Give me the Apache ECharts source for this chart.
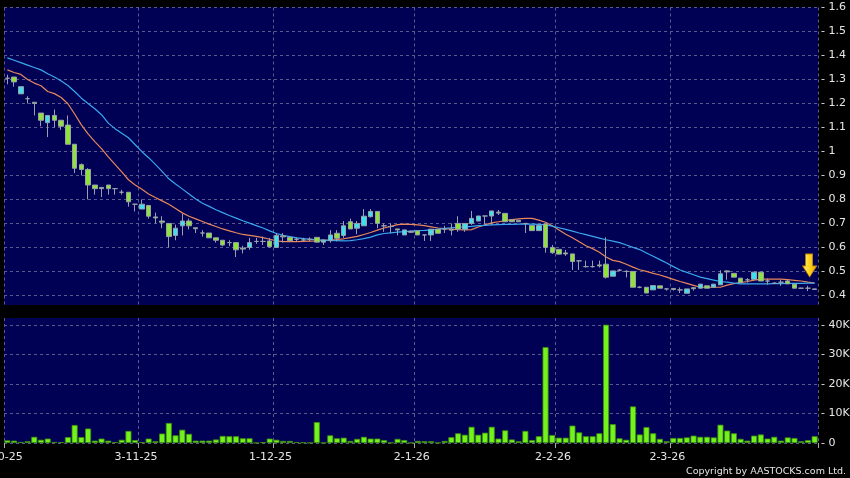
<!DOCTYPE html>
<html><head><meta charset="utf-8">
<script src="https://cdn.jsdelivr.net/npm/echarts@6/dist/echarts.min.js"></script>
<style>html,body{margin:0;padding:0;background:#000;}#c{width:850px;height:478px;}</style>
</head><body><div id="c"></div>
<script>
const dates = [
"2-10-25","3-10-25","6-10-25","8-10-25","9-10-25","10-10-25","13-10-25","14-10-25","15-10-25","16-10-25","17-10-25","20-10-25","21-10-25","22-10-25","23-10-25","24-10-25","27-10-25","28-10-25","30-10-25","31-10-25",
"3-11-25","4-11-25","5-11-25","6-11-25","7-11-25","10-11-25","11-11-25","12-11-25","13-11-25","14-11-25","17-11-25","18-11-25","19-11-25","20-11-25","21-11-25","24-11-25","25-11-25","26-11-25","27-11-25","28-11-25",
"1-12-25","2-12-25","3-12-25","4-12-25","5-12-25","8-12-25","9-12-25","10-12-25","11-12-25","12-12-25","15-12-25","16-12-25","17-12-25","18-12-25","19-12-25","22-12-25","23-12-25","24-12-25","29-12-25","30-12-25","31-12-25",
"2-1-26","5-1-26","6-1-26","7-1-26","8-1-26","9-1-26","12-1-26","13-1-26","14-1-26","15-1-26","16-1-26","19-1-26","20-1-26","21-1-26","22-1-26","23-1-26","26-1-26","27-1-26","28-1-26","29-1-26","30-1-26",
"2-2-26","3-2-26","4-2-26","5-2-26","6-2-26","9-2-26","10-2-26","11-2-26","12-2-26","13-2-26","16-2-26","20-2-26","23-2-26","24-2-26","25-2-26","26-2-26","27-2-26",
"2-3-26","3-3-26","4-3-26","5-3-26","6-3-26","9-3-26","10-3-26","11-3-26","12-3-26","13-3-26","16-3-26","17-3-26","18-3-26","19-3-26","20-3-26","23-3-26","24-3-26","25-3-26","26-3-26","27-3-26","30-3-26","31-3-26"
];
const monthLabels = ["2-10-25","3-11-25","1-12-25","2-1-26","2-2-26","2-3-26"];

const opens = [1.305,1.31,1.24,1.22,1.205,1.16,1.12,1.15,1.13,1.11, 1.03,0.945,0.925,0.86,0.85,0.86,0.845,0.83,0.83,0.78, 0.76,0.775,0.727,0.71,0.70,0.65,0.69,0.71,0.682,0.66, 0.66,0.64,0.63,0.62,0.62,0.597,0.60,0.625,0.625,0.627, 0.60,0.648,0.642,0.634,0.631,0.634,0.642,0.622,0.628,0.659, 0.65,0.707,0.68,0.69,0.728,0.75,0.69,0.687,0.677,0.652, 0.667,0.669,0.652,0.652,0.676,0.676,0.676,0.70,0.676,0.70, 0.71,0.731,0.731,0.747,0.742,0.715,0.713,0.70,0.691,0.67, 0.698,0.60,0.592,0.577,0.573,0.544,0.52,0.52,0.527,0.53, 0.48,0.505,0.50,0.50,0.434,0.434,0.423,0.44,0.427,0.429, 0.423,0.409,0.432,0.43,0.44,0.434,0.444,0.502,0.492,0.472, 0.465,0.467,0.497,0.46,0.451,0.455,0.46,0.447,0.43,0.43, 0.427];
const closes = [1.305,1.29,1.27,1.22,1.20,1.13,1.15,1.13,1.105,1.03, 0.93,0.925,0.86,0.845,0.845,0.845,0.845,0.83,0.79,0.78, 0.78,0.73,0.723,0.705,0.645,0.68,0.71,0.69,0.678,0.66, 0.64,0.63,0.61,0.62,0.59,0.593,0.62,0.625,0.625,0.603, 0.65,0.644,0.628,0.634,0.631,0.634,0.622,0.631,0.652,0.638, 0.69,0.677,0.70,0.73,0.75,0.70,0.69,0.687,0.673,0.673, 0.663,0.652,0.652,0.676,0.659,0.676,0.672,0.676,0.70,0.721, 0.731,0.731,0.752,0.743,0.707,0.707,0.707,0.70,0.67,0.691, 0.60,0.578,0.572,0.573,0.541,0.544,0.52,0.52,0.523,0.476, 0.502,0.505,0.50,0.434,0.434,0.41,0.441,0.43,0.427,0.425, 0.423,0.427,0.428,0.447,0.43,0.447,0.49,0.498,0.476,0.453, 0.465,0.497,0.46,0.46,0.451,0.455,0.448,0.43,0.43,0.43, 0.425];
const lows = [1.28,1.27,1.24,1.20,1.15,1.105,1.06,1.10,1.09,1.03, 0.91,0.90,0.80,0.82,0.81,0.82,0.82,0.82,0.77,0.75, 0.76,0.72,0.70,0.68,0.60,0.63,0.65,0.675,0.66,0.645, 0.64,0.62,0.605,0.605,0.56,0.575,0.59,0.615,0.61,0.60, 0.60,0.62,0.625,0.625,0.625,0.625,0.622,0.61,0.62,0.625, 0.64,0.677,0.655,0.69,0.725,0.68,0.665,0.66,0.65,0.652, 0.66,0.652,0.627,0.627,0.659,0.66,0.65,0.665,0.665,0.694, 0.71,0.694,0.694,0.735,0.707,0.707,0.707,0.66,0.67,0.67, 0.578,0.573,0.572,0.565,0.506,0.506,0.516,0.516,0.516,0.47, 0.48,0.50,0.475,0.434,0.43,0.41,0.423,0.43,0.42,0.42, 0.41,0.409,0.42,0.43,0.43,0.434,0.444,0.465,0.476,0.453, 0.453,0.467,0.46,0.445,0.448,0.44,0.448,0.43,0.428,0.418, 0.425];
const highs = [1.32,1.31,1.27,1.23,1.205,1.16,1.15,1.175,1.13,1.15, 1.03,0.95,0.93,0.86,0.85,0.86,0.845,0.84,0.83,0.78, 0.80,0.775,0.745,0.73,0.70,0.695,0.74,0.72,0.682,0.672, 0.66,0.64,0.63,0.63,0.62,0.607,0.64,0.64,0.645,0.64, 0.66,0.66,0.642,0.642,0.64,0.642,0.642,0.631,0.672,0.672, 0.71,0.72,0.71,0.76,0.76,0.75,0.70,0.70,0.677,0.673, 0.67,0.669,0.652,0.676,0.676,0.69,0.70,0.73,0.70,0.752, 0.731,0.731,0.752,0.756,0.742,0.715,0.713,0.70,0.691,0.691, 0.698,0.61,0.592,0.59,0.573,0.544,0.545,0.545,0.545,0.642, 0.502,0.51,0.505,0.50,0.438,0.434,0.441,0.44,0.43,0.43, 0.433,0.427,0.435,0.447,0.44,0.447,0.505,0.505,0.492,0.472, 0.472,0.497,0.497,0.47,0.455,0.465,0.465,0.447,0.432,0.44, 0.427];
const volumes = [900,800,350,600,2100,1100,1500,350,300,2000, 6100,2000,4900,800,1500,800,300,1100,4100,1000, 300,1500,600,3200,6800,2600,4500,3100,800,800, 800,1200,2400,2300,2300,1600,1600,50,300,1500, 1100,700,700,300,200,100,7100,100,2600,1600, 1800,700,1400,2100,1500,1500,1000,100,1400,1000, 100,700,600,600,100,700,2000,3300,2800,5500, 2800,3500,5500,1500,4300,1200,600,4100,1000,2300, 32500,2700,1800,1800,5900,3600,2300,2300,3300,40100, 6400,1600,1100,12400,2900,5400,3300,1400,600,1700, 1700,1900,2500,2100,2100,1900,6200,4200,3300,1400, 800,2500,2900,1500,2100,800,1900,1700,600,1000, 2300];
const maShort = [1.340,1.329,1.321,1.300,1.285,1.274,1.250,1.241,1.225,1.199, 1.156,1.111,1.073,1.041,1.012,0.977,0.946,0.915,0.882,0.860, 0.842,0.823,0.808,0.794,0.780,0.762,0.744,0.730,0.719,0.708, 0.697,0.687,0.677,0.669,0.661,0.654,0.650,0.646,0.641,0.634, 0.627,0.624,0.624,0.624,0.625,0.626,0.627,0.629,0.631,0.633, 0.636,0.641,0.646,0.654,0.662,0.672,0.681,0.688,0.695,0.697, 0.696,0.694,0.691,0.686,0.681,0.678,0.676,0.674,0.673,0.674, 0.685,0.694,0.702,0.707,0.712,0.716,0.719,0.721,0.721,0.714, 0.705,0.690,0.673,0.655,0.640,0.624,0.607,0.595,0.580,0.560, 0.546,0.541,0.530,0.518,0.507,0.500,0.492,0.485,0.476,0.467, 0.458,0.450,0.442,0.434,0.434,0.434,0.434,0.443,0.449,0.453, 0.458,0.464,0.468,0.468,0.468,0.468,0.466,0.463,0.460,0.455, 0.451];
const maLong = [1.390,1.380,1.370,1.360,1.350,1.340,1.324,1.310,1.294,1.275, 1.250,1.222,1.200,1.178,1.153,1.118,1.095,1.076,1.057,1.028, 0.999,0.974,0.946,0.917,0.886,0.864,0.844,0.823,0.802,0.784, 0.771,0.757,0.745,0.733,0.722,0.711,0.701,0.691,0.681,0.669, 0.658,0.650,0.645,0.640,0.637,0.634,0.632,0.630,0.629,0.628, 0.627,0.628,0.632,0.637,0.643,0.652,0.658,0.661,0.664,0.666, 0.668,0.670,0.671,0.673,0.675,0.679,0.682,0.684,0.686,0.688, 0.691,0.692,0.694,0.695,0.696,0.696,0.697,0.697,0.697,0.696, 0.694,0.689,0.682,0.675,0.668,0.660,0.653,0.646,0.639,0.632, 0.626,0.620,0.610,0.600,0.591,0.577,0.563,0.549,0.535,0.520, 0.506,0.496,0.486,0.476,0.470,0.464,0.458,0.455,0.451,0.448, 0.448,0.448,0.448,0.448,0.449,0.449,0.450,0.450,0.450,0.451, 0.451];
const priceTicks = [0.4,0.5,0.6,0.7,0.8,0.9,1.0,1.1,1.2,1.3,1.4,1.5,1.6];
const volTicks = [0,10000,20000,30000,40000];

const FONT = '"DejaVu Sans", Verdana, sans-serif';
const LBL = '#e6e6e6';
const GRIDC = '#5a5a8c';
const isMonth = (i, v) => monthLabels.indexOf(v) >= 0;
const ohlc = dates.map((d, i) => [opens[i], closes[i], lows[i], highs[i]]);

const chart = echarts.init(document.getElementById('c'), null, {renderer: 'canvas'});
const xBase = {
  type: 'category', data: dates, boundaryGap: true,
  axisLine: {show: false},
  splitLine: {show: true, interval: isMonth, lineStyle: {color: GRIDC, type: [3, 3], width: 1}}
};
const gridBase = {left: 4, right: 32, show: true, backgroundColor: '#000055', borderWidth: 0, containLabel: false, outerBoundsMode: 'none'};
chart.setOption({
  animation: false,
  backgroundColor: '#000000',
  textStyle: {fontFamily: FONT},
  title: {
    text: 'Copyright by AASTOCKS.com Ltd.', right: 4, bottom: 0, padding: [0, 0, 1, 0],
    textStyle: {color: LBL, fontSize: 9.5, fontWeight: 'normal', fontFamily: FONT}
  },
  grid: [
    Object.assign({}, gridBase, {top: 7.5, height: 297.5}),
    Object.assign({}, gridBase, {top: 318, height: 125})
  ],
  xAxis: [
    Object.assign({}, xBase, {gridIndex: 0, axisTick: {show: false}, axisLabel: {show: false}}),
    Object.assign({}, xBase, {
      gridIndex: 1,
      axisTick: {show: true, interval: isMonth, length: 5, lineStyle: {color: '#aaaaaa'}},
      axisLabel: {show: true, interval: isMonth, color: LBL, fontSize: 11, margin: 9, padding: [0, 12, 0, 0], fontFamily: FONT}
    })
  ],
  yAxis: [
    {
      type: 'value', gridIndex: 0, position: 'right', min: 0.36, max: 1.6, scale: true,
      axisLine: {show: false},
      axisTick: {show: false, customValues: priceTicks},
      axisLabel: {customValues: priceTicks, color: LBL, fontSize: 11, margin: 3, fontFamily: FONT,
        formatter: v => '- ' + String(+v.toFixed(1))},
      splitLine: {show: true, lineStyle: {color: GRIDC, type: [3, 3], width: 1}}
    },
    {
      type: 'value', gridIndex: 1, position: 'right', min: 0, max: 42370,
      axisLine: {show: false},
      axisTick: {show: false, customValues: volTicks},
      axisLabel: {customValues: volTicks, color: LBL, fontSize: 11, margin: 3, fontFamily: FONT,
        formatter: v => '- ' + (v === 0 ? '0' : Math.round(v / 1000) + 'K')},
      splitLine: {show: true, lineStyle: {color: GRIDC, type: [3, 3], width: 1}}
    }
  ],
  series: [
    {
      type: 'line', xAxisIndex: 0, yAxisIndex: 0, data: maShort, showSymbol: false, symbol: 'none', z: 2,
      lineStyle: {color: '#e8875a', width: 1.2}
    },
    {
      type: 'line', xAxisIndex: 0, yAxisIndex: 0, data: maLong, showSymbol: false, symbol: 'none', z: 2,
      lineStyle: {color: '#3aa8ee', width: 1.2}
    },
    {
      type: 'candlestick', xAxisIndex: 0, yAxisIndex: 0, data: ohlc, barWidth: 5, z: 3,
      itemStyle: {color: '#3fe0ee', color0: '#8ee23a', borderColor: '#9aa0aa', borderColor0: '#9aa0aa', borderWidth: 1},
      markPoint: {
        silent: true, animation: false, label: {show: false},
        data: [{
          coord: [dates[dates.length - 1], closes[closes.length - 1]],
          symbol: 'path://M3,0 L10,0 L10,12 L14,12 L7,23 L0,12 L3,12 Z',
          symbolSize: [14, 23], symbolOffset: [-5, -24], symbolKeepAspect: false,
          itemStyle: {
            color: new echarts.graphic.LinearGradient(0, 0, 1, 0, [
              {offset: 0, color: '#fff176'}, {offset: 0.5, color: '#ffd21f'}, {offset: 1, color: '#e5a400'}
            ]),
            borderColor: '#c88a00', borderWidth: 0.8
          }
        }]
      }
    },
    {
      type: 'bar', xAxisIndex: 1, yAxisIndex: 1, data: volumes, barWidth: 6,
      itemStyle: {color: '#74f21c', borderColor: '#3f8f0c', borderWidth: 0.8}
    }
  ]
});
</script></body></html>
